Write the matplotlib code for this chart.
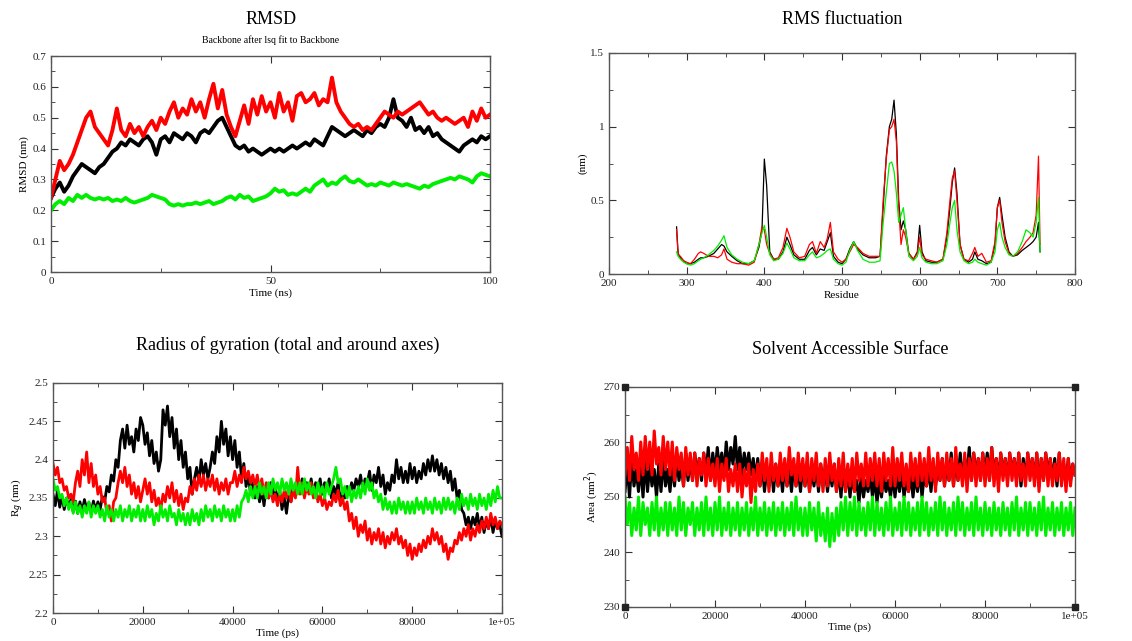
import matplotlib
matplotlib.use("Agg")
import matplotlib.pyplot as plt
from matplotlib.ticker import MultipleLocator

plt.rcParams['font.family'] = ['Liberation Serif', 'DejaVu Serif']

# ---------------- RMSD (time in ns, 1 ns steps) ----------------
rmsd_time = list(range(0, 101))
rmsd_black = [0.24, 0.27, 0.29, 0.26, 0.28, 0.31, 0.33, 0.35, 0.34, 0.33,
              0.32, 0.34, 0.35, 0.37, 0.39, 0.40, 0.42, 0.41, 0.43, 0.42,
              0.41, 0.43, 0.44, 0.42, 0.38, 0.43, 0.44, 0.42, 0.45, 0.44,
              0.43, 0.45, 0.44, 0.42, 0.45, 0.46, 0.45, 0.47, 0.49, 0.50,
              0.47, 0.44, 0.41, 0.40, 0.41, 0.39, 0.40, 0.39, 0.38, 0.39,
              0.40, 0.39, 0.40, 0.39, 0.40, 0.41, 0.40, 0.41, 0.42, 0.41,
              0.43, 0.42, 0.41, 0.44, 0.47, 0.46, 0.45, 0.44, 0.45, 0.46,
              0.45, 0.44, 0.46, 0.45, 0.47, 0.48, 0.47, 0.50, 0.56, 0.50,
              0.49, 0.47, 0.50, 0.46, 0.47, 0.45, 0.47, 0.44, 0.45, 0.43,
              0.42, 0.41, 0.40, 0.39, 0.41, 0.42, 0.43, 0.42, 0.44, 0.43,
              0.44]
rmsd_red = [0.24, 0.30, 0.36, 0.33, 0.35, 0.38, 0.42, 0.46, 0.50, 0.52,
            0.47, 0.45, 0.43, 0.41, 0.46, 0.53, 0.46, 0.44, 0.48, 0.45,
            0.47, 0.44, 0.47, 0.49, 0.46, 0.50, 0.48, 0.52, 0.55, 0.50,
            0.53, 0.51, 0.56, 0.52, 0.55, 0.50, 0.56, 0.61, 0.53, 0.59,
            0.51, 0.47, 0.44, 0.49, 0.54, 0.48, 0.56, 0.51, 0.57, 0.52,
            0.55, 0.50, 0.58, 0.52, 0.55, 0.49, 0.57, 0.58, 0.55, 0.56,
            0.58, 0.54, 0.56, 0.55, 0.63, 0.55, 0.52, 0.50, 0.48, 0.47,
            0.48, 0.46, 0.47, 0.46, 0.48, 0.50, 0.52, 0.51, 0.50, 0.52,
            0.51, 0.52, 0.53, 0.54, 0.55, 0.53, 0.51, 0.52, 0.50, 0.49,
            0.50, 0.49, 0.48, 0.49, 0.50, 0.47, 0.52, 0.49, 0.53, 0.50,
            0.51]
rmsd_green = [0.20, 0.22, 0.23, 0.22, 0.24, 0.23, 0.25, 0.24, 0.25, 0.24,
              0.235, 0.24, 0.235, 0.24, 0.23, 0.235, 0.23, 0.24, 0.23, 0.225,
              0.23, 0.235, 0.24, 0.25, 0.245, 0.24, 0.235, 0.22, 0.215, 0.22,
              0.215, 0.22, 0.22, 0.225, 0.22, 0.225, 0.23, 0.22, 0.225, 0.23,
              0.24, 0.245, 0.235, 0.25, 0.24, 0.245, 0.23, 0.235, 0.24, 0.245,
              0.255, 0.27, 0.26, 0.265, 0.25, 0.255, 0.25, 0.26, 0.27, 0.26,
              0.28, 0.29, 0.30, 0.28, 0.29, 0.285, 0.30, 0.31, 0.295, 0.29,
              0.30, 0.29, 0.28, 0.285, 0.28, 0.29, 0.285, 0.28, 0.29, 0.285,
              0.28, 0.285, 0.28, 0.275, 0.27, 0.28, 0.275, 0.285, 0.29, 0.295,
              0.30, 0.305, 0.30, 0.31, 0.305, 0.30, 0.29, 0.31, 0.32, 0.315,
              0.31]

# ---------------- RMSF (residue) ----------------
residues = [287, 289, 292, 296, 300, 305, 310, 315, 318, 322, 328, 335, 340, 345, 348,
            352, 358, 365, 372, 380, 387, 393, 397, 400, 403, 407, 412, 418, 424, 429,
            433, 438, 445, 452, 458, 462, 467, 472, 477, 481, 485, 489, 495, 500, 505,
            510, 515, 520, 527, 535, 543, 549, 553, 557, 561, 564, 567, 570, 573, 576,
            579, 582, 586, 592, 597, 600, 603, 608, 615, 622, 630, 635, 639, 642, 645,
            648, 652, 657, 663, 668, 671, 675, 680, 686, 692, 697, 700, 703, 706, 710,
            715, 720, 726, 732, 737, 742, 746, 750, 753, 755]
rmsf_black = [0.32, 0.14, 0.11, 0.09, 0.07, 0.07, 0.08, 0.10, 0.11, 0.11, 0.12, 0.14, 0.17, 0.20, 0.19,
              0.15, 0.12, 0.09, 0.07, 0.07, 0.09, 0.18, 0.30, 0.78, 0.60, 0.15, 0.10, 0.10, 0.15, 0.25,
              0.20, 0.13, 0.10, 0.10, 0.16, 0.18, 0.13, 0.17, 0.16, 0.22, 0.28, 0.12, 0.08, 0.07, 0.10,
              0.17, 0.22, 0.17, 0.13, 0.11, 0.11, 0.12, 0.45, 0.80, 1.00, 1.05, 1.18, 0.95, 0.50, 0.30,
              0.36, 0.30, 0.14, 0.10, 0.15, 0.33, 0.15, 0.09, 0.08, 0.08, 0.10, 0.25, 0.45, 0.62, 0.72,
              0.55, 0.20, 0.10, 0.08, 0.10, 0.15, 0.10, 0.09, 0.07, 0.08, 0.20, 0.45, 0.52, 0.40, 0.25,
              0.15, 0.12, 0.13, 0.16, 0.18, 0.20, 0.22, 0.25, 0.35, 0.15]
rmsf_red = [0.30, 0.13, 0.12, 0.09, 0.08, 0.07, 0.10, 0.14, 0.15, 0.14, 0.12, 0.12, 0.11, 0.13, 0.17,
            0.10, 0.08, 0.07, 0.07, 0.06, 0.08, 0.20, 0.32, 0.30, 0.20, 0.14, 0.10, 0.11, 0.18, 0.31,
            0.25, 0.15, 0.11, 0.12, 0.20, 0.22, 0.14, 0.22, 0.18, 0.24, 0.35, 0.15, 0.10, 0.08, 0.10,
            0.15, 0.20, 0.18, 0.14, 0.12, 0.12, 0.12, 0.50, 0.78, 0.98, 1.00, 1.05, 0.90, 0.45, 0.20,
            0.30, 0.25, 0.14, 0.10, 0.14, 0.25, 0.13, 0.10, 0.09, 0.08, 0.10, 0.28, 0.50, 0.65, 0.70,
            0.50, 0.20, 0.10, 0.09, 0.14, 0.18, 0.12, 0.14, 0.08, 0.09, 0.22, 0.45, 0.50, 0.35, 0.22,
            0.14, 0.12, 0.14, 0.18, 0.22, 0.25, 0.28, 0.40, 0.80, 0.20]
rmsf_green = [0.15, 0.12, 0.10, 0.08, 0.07, 0.06, 0.07, 0.09, 0.10, 0.11, 0.13, 0.16, 0.19, 0.23, 0.26,
              0.18, 0.13, 0.10, 0.08, 0.07, 0.09, 0.20, 0.28, 0.33, 0.25, 0.13, 0.09, 0.10, 0.14, 0.21,
              0.17, 0.11, 0.09, 0.09, 0.13, 0.15, 0.11, 0.12, 0.14, 0.16, 0.17, 0.10, 0.07, 0.06, 0.08,
              0.16, 0.22, 0.16, 0.10, 0.08, 0.08, 0.09, 0.35, 0.55, 0.75, 0.76, 0.70, 0.55, 0.35, 0.40,
              0.45, 0.30, 0.12, 0.09, 0.12, 0.18, 0.11, 0.08, 0.07, 0.07, 0.09, 0.20, 0.35, 0.45, 0.50,
              0.30, 0.15, 0.09, 0.07, 0.08, 0.10, 0.08, 0.07, 0.06, 0.08, 0.15, 0.30, 0.35, 0.25, 0.18,
              0.13, 0.12, 0.15, 0.22, 0.30, 0.28, 0.25, 0.35, 0.52, 0.15]

# ---------------- Radius of gyration (time in ps, 500 ps steps) ----------------
rg_time = [i * 500 for i in range(201)]
rg_black = [2.355, 2.34, 2.36, 2.338, 2.352, 2.335, 2.35, 2.338, 2.348, 2.332,
            2.346, 2.33, 2.345, 2.332, 2.348, 2.335, 2.344, 2.33, 2.346, 2.334,
            2.345, 2.335, 2.352, 2.345, 2.365, 2.358, 2.38, 2.372, 2.40, 2.39,
            2.425, 2.44, 2.415, 2.445, 2.42, 2.43, 2.41, 2.44, 2.425, 2.455,
            2.445, 2.42, 2.435, 2.405, 2.425, 2.395, 2.41, 2.385, 2.40, 2.465,
            2.445, 2.47, 2.43, 2.455, 2.415, 2.44, 2.40, 2.425, 2.39, 2.41,
            2.375, 2.39, 2.355, 2.375, 2.39, 2.37, 2.40, 2.38, 2.395, 2.375,
            2.39, 2.41, 2.395, 2.43, 2.41, 2.45, 2.42, 2.44, 2.405, 2.43,
            2.40, 2.425, 2.39, 2.41, 2.375, 2.395, 2.365, 2.38, 2.355, 2.37,
            2.35, 2.365, 2.345, 2.36, 2.34, 2.365, 2.35, 2.37, 2.355, 2.365,
            2.345, 2.36, 2.335, 2.35, 2.33, 2.355, 2.345, 2.365, 2.355, 2.37,
            2.36, 2.375, 2.355, 2.37, 2.36, 2.375, 2.355, 2.37, 2.36, 2.375,
            2.355, 2.37, 2.36, 2.375, 2.35, 2.365, 2.355, 2.37, 2.345, 2.36,
            2.35, 2.365, 2.355, 2.37, 2.36, 2.375, 2.365, 2.38, 2.36, 2.375,
            2.37, 2.385, 2.36, 2.38, 2.37, 2.39, 2.365, 2.38, 2.355, 2.37,
            2.36, 2.38, 2.37, 2.40, 2.375, 2.39, 2.37, 2.385, 2.37, 2.395,
            2.375, 2.39, 2.37, 2.385, 2.375, 2.395, 2.38, 2.40, 2.385, 2.405,
            2.385, 2.40, 2.38, 2.395, 2.375, 2.39, 2.37, 2.385, 2.36, 2.375,
            2.35, 2.36, 2.335, 2.33, 2.315, 2.325, 2.31, 2.325, 2.315, 2.33,
            2.31, 2.325, 2.305, 2.32, 2.31, 2.325, 2.305, 2.32, 2.31, 2.315,
            2.30]
rg_red = [2.395, 2.38, 2.39, 2.37, 2.375, 2.36, 2.365, 2.35, 2.355, 2.345,
          2.37, 2.385, 2.365, 2.40, 2.38, 2.41, 2.37, 2.395, 2.365, 2.38,
          2.355, 2.365, 2.345, 2.35, 2.33, 2.34, 2.32, 2.345, 2.35, 2.37,
          2.385, 2.37, 2.39, 2.365, 2.38, 2.355, 2.37, 2.35, 2.365, 2.345,
          2.36, 2.375, 2.355, 2.37, 2.345, 2.36, 2.34, 2.35, 2.335, 2.355,
          2.345, 2.365, 2.35, 2.37, 2.345, 2.36, 2.34, 2.355, 2.335, 2.35,
          2.345, 2.365, 2.355, 2.375, 2.36, 2.38, 2.365, 2.38, 2.36, 2.375,
          2.365, 2.38, 2.36, 2.375, 2.355, 2.37, 2.36, 2.375, 2.355, 2.37,
          2.37, 2.385, 2.365, 2.38, 2.37, 2.39, 2.375, 2.385, 2.37, 2.38,
          2.365, 2.38, 2.36, 2.375, 2.355, 2.37, 2.35, 2.36, 2.345, 2.355,
          2.34, 2.355, 2.345, 2.36, 2.35, 2.365, 2.345, 2.36, 2.35, 2.39,
          2.355, 2.37, 2.35, 2.365, 2.355, 2.37, 2.35, 2.36, 2.345, 2.355,
          2.34, 2.35, 2.335, 2.345, 2.34, 2.355, 2.345, 2.36, 2.34, 2.35,
          2.335, 2.345, 2.32, 2.33, 2.31, 2.325, 2.30, 2.315, 2.305, 2.32,
          2.295, 2.31, 2.29, 2.305, 2.295, 2.31, 2.29, 2.305, 2.285, 2.30,
          2.29, 2.305, 2.295, 2.31, 2.29, 2.30, 2.285, 2.295, 2.275, 2.29,
          2.27, 2.285, 2.275, 2.29, 2.28, 2.295, 2.285, 2.30, 2.29, 2.31,
          2.295, 2.305, 2.29, 2.30, 2.28, 2.29, 2.27, 2.285, 2.28, 2.295,
          2.29, 2.305, 2.295, 2.31, 2.30, 2.315, 2.295, 2.31, 2.30, 2.315,
          2.305, 2.32, 2.31, 2.325, 2.31, 2.33, 2.315, 2.325, 2.31, 2.32,
          2.315]
rg_green = [2.375, 2.36, 2.365, 2.35, 2.355, 2.34, 2.35, 2.335, 2.345, 2.33,
            2.345, 2.33, 2.34, 2.325, 2.34, 2.33, 2.345, 2.325, 2.34, 2.33,
            2.34, 2.325, 2.335, 2.32, 2.34, 2.325, 2.335, 2.32, 2.335, 2.325,
            2.34, 2.32, 2.335, 2.325, 2.34, 2.32, 2.335, 2.325, 2.34, 2.32,
            2.335, 2.32, 2.34, 2.325, 2.335, 2.315, 2.33, 2.32, 2.34, 2.325,
            2.335, 2.32, 2.34, 2.325, 2.33, 2.315, 2.335, 2.32, 2.33, 2.315,
            2.33, 2.315, 2.335, 2.32, 2.33, 2.315, 2.335, 2.32, 2.34, 2.325,
            2.335, 2.32, 2.34, 2.325, 2.335, 2.32, 2.34, 2.325, 2.335, 2.32,
            2.335, 2.32, 2.34, 2.325, 2.345, 2.35, 2.36, 2.345, 2.365, 2.35,
            2.365, 2.35, 2.37, 2.355, 2.365, 2.35, 2.37, 2.355, 2.375, 2.36,
            2.37, 2.355, 2.375, 2.36, 2.37, 2.355, 2.375, 2.36, 2.37, 2.355,
            2.37, 2.355, 2.375, 2.36, 2.37, 2.355, 2.365, 2.35, 2.37, 2.355,
            2.365, 2.35, 2.37, 2.355, 2.365, 2.375, 2.39, 2.37, 2.375, 2.355,
            2.365, 2.35, 2.365, 2.345, 2.36, 2.35, 2.365, 2.35, 2.37, 2.355,
            2.375, 2.36, 2.37, 2.35, 2.36, 2.345, 2.355, 2.335, 2.35, 2.335,
            2.345, 2.33, 2.345, 2.33, 2.35, 2.335, 2.345, 2.33, 2.345, 2.33,
            2.345, 2.33, 2.35, 2.335, 2.345, 2.33, 2.35, 2.335, 2.345, 2.33,
            2.35, 2.335, 2.345, 2.33, 2.35, 2.335, 2.35, 2.335, 2.345, 2.33,
            2.35, 2.335, 2.355, 2.34, 2.35, 2.335, 2.355, 2.34, 2.35, 2.335,
            2.355, 2.34, 2.35, 2.335, 2.355, 2.34, 2.36, 2.345, 2.365, 2.35,
            2.35]

# ---------------- Solvent accessible surface (time in ps, 500 ps steps) ----------------
sas_time = [i * 500 for i in range(201)]
sas_black = [251, 256, 250, 257, 252, 255, 251, 256, 250, 257,
             251, 256, 252, 255, 250, 256, 251, 257, 252, 255,
             251, 256, 252, 257, 253, 256, 252, 258, 253, 257,
             253, 258, 254, 257, 253, 258, 254, 259, 253, 258,
             254, 259, 255, 258, 254, 260, 255, 259, 256, 261,
             255, 259, 254, 258, 255, 258, 254, 257, 253, 257,
             252, 256, 251, 255, 252, 256, 251, 256, 252, 255,
             251, 256, 252, 255, 251, 256, 252, 255, 251, 256,
             252, 256, 251, 255, 252, 256, 251, 256, 252, 255,
             251, 255, 252, 256, 251, 255, 250, 256, 251, 255,
             250, 254, 251, 253, 249, 254, 250, 253, 251, 254,
             250, 254, 249, 253, 250, 254, 251, 253, 250, 254,
             250, 254, 251, 255, 250, 253, 251, 254, 250, 254,
             251, 255, 250, 254, 252, 255, 251, 256, 252, 255,
             253, 257, 252, 256, 253, 258, 252, 257, 253, 258,
             253, 257, 254, 259, 253, 258, 254, 257, 253, 258,
             254, 258, 253, 259, 254, 257, 253, 258, 254, 257,
             253, 258, 254, 257, 253, 258, 252, 257, 253, 258,
             254, 257, 253, 258, 252, 257, 253, 258, 254, 257,
             253, 257, 252, 258, 253, 256, 252, 257, 253, 256,
             254]
sas_red = [254, 259, 253, 261, 255, 258, 253, 260, 254, 261,
           255, 260, 254, 262, 256, 259, 254, 261, 255, 260,
           254, 260, 253, 259, 255, 258, 252, 259, 254, 258,
           253, 258, 252, 257, 254, 258, 252, 257, 253, 256,
           252, 257, 251, 256, 253, 257, 251, 255, 252, 256,
           251, 256, 250, 255, 252, 256, 249, 255, 251, 256,
           252, 258, 253, 257, 251, 258, 253, 256, 252, 258,
           253, 257, 252, 259, 254, 257, 252, 258, 253, 257,
           252, 258, 251, 257, 253, 258, 252, 256, 251, 257,
           252, 258, 253, 256, 251, 257, 252, 258, 251, 256,
           252, 257, 251, 258, 253, 256, 252, 258, 252, 257,
           253, 258, 252, 257, 251, 258, 253, 257, 252, 259,
           252, 257, 253, 258, 252, 256, 251, 258, 253, 257,
           252, 258, 253, 257, 252, 259, 253, 257, 251, 258,
           253, 257, 252, 258, 253, 257, 252, 259, 253, 256,
           252, 258, 251, 257, 253, 258, 252, 257, 253, 258,
           252, 257, 253, 259, 252, 257, 251, 258, 253, 257,
           252, 258, 253, 257, 252, 258, 253, 256, 252, 258,
           253, 257, 252, 258, 251, 257, 253, 258, 252, 257,
           252, 256, 253, 258, 252, 257, 251, 257, 252, 256,
           254]
sas_green = [250, 245, 249, 243, 248, 244, 250, 243, 249, 245,
             248, 243, 249, 244, 250, 243, 248, 244, 249, 243,
             249, 244, 248, 243, 250, 244, 249, 243, 248, 245,
             249, 243, 248, 244, 249, 243, 250, 244, 248, 243,
             249, 244, 250, 243, 248, 244, 249, 243, 248, 244,
             249, 243, 248, 244, 249, 243, 248, 244, 250, 243,
             248, 244, 249, 243, 248, 244, 249, 243, 248, 244,
             249, 243, 248, 244, 249, 243, 250, 244, 248, 243,
             248, 243, 249, 244, 248, 242, 249, 243, 247, 242,
             248, 241, 247, 242, 248, 243, 249, 244, 250, 243,
             249, 244, 250, 243, 249, 244, 248, 243, 249, 244,
             250, 243, 249, 244, 248, 243, 249, 244, 250, 243,
             248, 244, 249, 243, 250, 244, 249, 243, 248, 244,
             249, 243, 250, 244, 249, 243, 248, 244, 249, 243,
             250, 244, 249, 243, 248, 244, 249, 243, 250, 244,
             249, 243, 248, 244, 249, 243, 250, 244, 248, 243,
             249, 244, 248, 243, 249, 244, 248, 243, 249, 244,
             248, 243, 249, 244, 250, 243, 248, 244, 249, 243,
             249, 244, 248, 243, 249, 244, 250, 243, 248, 244,
             249, 243, 248, 244, 249, 243, 248, 244, 249, 243,
             248]

BLACK, RED, GREEN = '#000000', '#ff0000', '#00ee00'

W, H = 1132, 641
fig = plt.figure(figsize=(W / 100, H / 100), dpi=100)


def px_axes(l, t, r, b):
    return fig.add_axes([l / W, 1 - b / H, (r - l) / W, (b - t) / H])


def style(ax):
    ax.tick_params(which='both', direction='in', top=True, right=True,
                   labelsize=8, colors='#333333', labelcolor='#222222')
    ax.tick_params(which='major', length=5, width=0.8)
    ax.tick_params(which='minor', length=3, width=0.6)
    for s in ax.spines.values():
        s.set_color('#555555')
        s.set_linewidth(1.0)


gfmt = plt.FuncFormatter(lambda v, p: '%g' % round(v, 3))
tfmt = plt.FuncFormatter(lambda v, p: '1e+05' if abs(v - 100000) < 1 else '%d' % round(v))

# RMSD
ax1 = px_axes(51, 56, 490, 272)
ax1.plot(rmsd_time, rmsd_black, color=BLACK, lw=2.8)
ax1.plot(rmsd_time, rmsd_red, color=RED, lw=2.8)
ax1.plot(rmsd_time, rmsd_green, color=GREEN, lw=2.8)
ax1.set_xlim(0, 100)
ax1.set_ylim(0, 0.7)
ax1.xaxis.set_major_locator(MultipleLocator(50))
ax1.xaxis.set_minor_locator(MultipleLocator(25))
ax1.yaxis.set_major_locator(MultipleLocator(0.1))
ax1.yaxis.set_minor_locator(MultipleLocator(0.05))
ax1.yaxis.set_major_formatter(gfmt)
ax1.set_xlabel('Time (ns)', fontsize=8, labelpad=2)
ax1.set_ylabel('RMSD (nm)', fontsize=8, labelpad=2)
style(ax1)
fig.text(271 / W, 1 - 20 / H, 'RMSD', ha='center', va='center', fontsize=13)
fig.text(271 / W, 1 - 40 / H, 'Backbone after lsq fit to Backbone', ha='center',
         va='center', fontsize=7)

# RMSF
ax2 = px_axes(609, 53, 1075, 274)
ax2.plot(residues, rmsf_black, color=BLACK, lw=0.9)
ax2.plot(residues, rmsf_red, color=RED, lw=0.9)
ax2.plot(residues, rmsf_green, color=GREEN, lw=0.9)
ax2.set_xlim(200, 800)
ax2.set_ylim(0, 1.5)
ax2.xaxis.set_major_locator(MultipleLocator(100))
ax2.xaxis.set_minor_locator(MultipleLocator(50))
ax2.yaxis.set_major_locator(MultipleLocator(0.5))
ax2.yaxis.set_minor_locator(MultipleLocator(0.25))
ax2.yaxis.set_major_formatter(gfmt)
ax2.set_xlabel('Residue', fontsize=8, labelpad=2)
ax2.set_ylabel('(nm)', fontsize=8, labelpad=2)
style(ax2)
fig.text(842 / W, 1 - 20 / H, 'RMS fluctuation', ha='center', va='center', fontsize=13)

# Rg
ax3 = px_axes(53, 383, 502, 613)
ax3.plot(rg_time, rg_black, color=BLACK, lw=2.0)
ax3.plot(rg_time, rg_red, color=RED, lw=2.0)
ax3.plot(rg_time, rg_green, color=GREEN, lw=2.0)
ax3.set_xlim(0, 100000)
ax3.set_ylim(2.2, 2.5)
ax3.xaxis.set_major_locator(MultipleLocator(20000))
ax3.xaxis.set_minor_locator(MultipleLocator(10000))
ax3.yaxis.set_major_locator(MultipleLocator(0.05))
ax3.yaxis.set_minor_locator(MultipleLocator(0.025))
ax3.xaxis.set_major_formatter(tfmt)
ax3.yaxis.set_major_formatter(gfmt)
ax3.set_xlabel('Time (ps)', fontsize=8, labelpad=1)
ax3.set_ylabel('R$_g$ (nm)', fontsize=8, labelpad=2)
style(ax3)
fig.text(288 / W, 1 - 345 / H, 'Radius of gyration (total and around axes)', ha='center',
         va='center', fontsize=13)

# SAS
ax4 = px_axes(625, 387, 1075, 607)
ax4.plot(sas_time, sas_black, color=BLACK, lw=2.2)
ax4.plot(sas_time, sas_red, color=RED, lw=2.2)
ax4.plot(sas_time, sas_green, color=GREEN, lw=2.2)
ax4.set_xlim(0, 100000)
ax4.set_ylim(230, 270)
ax4.xaxis.set_major_locator(MultipleLocator(20000))
ax4.xaxis.set_minor_locator(MultipleLocator(10000))
ax4.yaxis.set_major_locator(MultipleLocator(10))
ax4.yaxis.set_minor_locator(MultipleLocator(5))
ax4.xaxis.set_major_formatter(tfmt)
ax4.plot([0, 0, 100000, 100000], [230, 270, 230, 270], ls='none', marker='s',
         ms=4, color='#222222', clip_on=False, zorder=5)
ax4.set_xlabel('Time (ps)', fontsize=8, labelpad=1)
ax4.set_ylabel('Area (nm$^2$)', fontsize=8, labelpad=2)
style(ax4)
fig.text(850 / W, 1 - 349 / H, 'Solvent Accessible Surface', ha='center', va='center',
         fontsize=13)

fig.savefig('out.png', dpi=100)
